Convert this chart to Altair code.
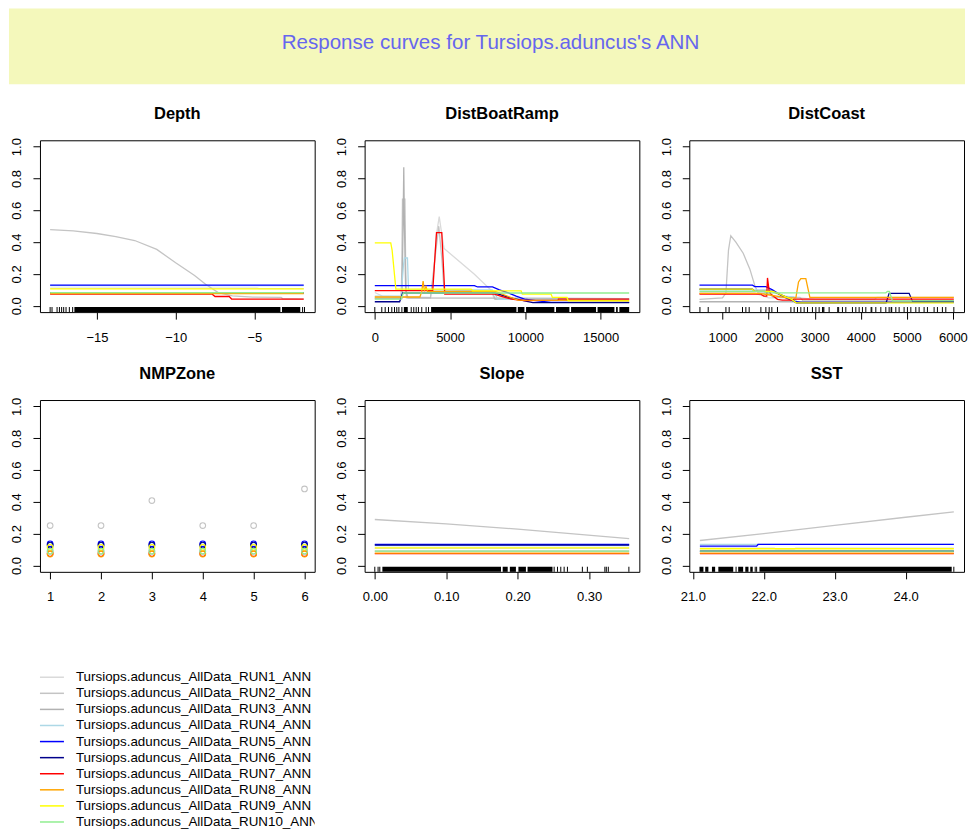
import altair as alt
import pandas as pd

FONT = "Liberation Sans"
TITLE = "Response curves for Tursiops.aduncus's ANN"
BAND = "#F4F8BB"
TITLE_COLOR = "#6666EE"

RUNS = [f"Tursiops.aduncus_AllData_RUN{i}_ANN" for i in range(1, 11)]
RUN_COLORS = ["#DADADA", "#C4C4C4", "#B2B2B2", "#ADD8E6", "#0000FF",
              "#00008B", "#FF0000", "#FFA500", "#FFFF00", "#90EE90"]

# ---- response curves: run number -> (x values, predicted probability) ----
DEPTH = {
    1: ([-17.97, -4.83, -4.7, -1.87], [0.111, 0.111, 0.107, 0.107]),
    2: ([-17.97, -16.5, -15, -13.8, -12.6, -11.2, -10, -8.8, -8.1, -7.3, -6.4, -5.1, -3.3, -3.2, -1.87],
        [0.479, 0.47, 0.454, 0.435, 0.41, 0.354, 0.27, 0.19, 0.135, 0.083, 0.0625, 0.054, 0.052, 0.044, 0.042]),
    3: ([-17.97, -1.87], [0.082, 0.082]),
    4: ([-17.97, -1.87], [0.126, 0.126]),
    5: ([-17.97, -1.87], [0.129, 0.129]),
    6: ([-17.97, -1.87], [0.080, 0.080]),
    7: ([-17.97, -7.68, -7.5, -6.6, -6.45, -1.87], [0.073, 0.073, 0.058, 0.058, 0.042, 0.042]),
    8: ([-17.97, -1.87], [0.077, 0.077]),
    9: ([-17.97, -1.87], [0.106, 0.106]),
    10: ([-17.97, -1.87], [0.083, 0.083]),
}

DIST_BOAT = {
    1: ([0, 500, 1700, 3700, 3900, 4100, 4280, 4450, 4600, 6600, 7700, 7950, 9000, 16900],
        [0.083, 0.06, 0.055, 0.052, 0.2, 0.45, 0.56, 0.45, 0.36, 0.2, 0.1, 0.042, 0.04, 0.035]),
    2: ([0, 1750, 1800, 1840, 2000, 2050, 2100, 3700, 4000, 4250, 4450, 4600, 7800, 8000, 16900],
        [0.05, 0.05, 0.25, 0.67, 0.67, 0.25, 0.05, 0.05, 0.3, 0.5, 0.3, 0.1, 0.09, 0.04, 0.04]),
    3: ([0, 1800, 1880, 1925, 1970, 2050, 2200, 16900],
        [0.045, 0.045, 0.5, 0.87, 0.5, 0.1, 0.05, 0.045]),
    4: ([0, 1750, 1900, 1970, 2170, 2240, 7800, 8200, 16900],
        [0.06, 0.06, 0.25, 0.30, 0.30, 0.1, 0.1, 0.04, 0.04]),
    5: ([0, 6620, 6830, 7820, 8280, 8830, 9390, 9950, 10820, 11710, 16900],
        [0.127, 0.127, 0.118, 0.118, 0.1, 0.083, 0.06, 0.042, 0.031, 0.021, 0.021]),
    6: ([0, 1650, 1850, 8000, 9000, 10500, 16900],
        [0.025, 0.025, 0.08, 0.08, 0.05, 0.02, 0.02]),
    7: ([0, 3850, 4100, 4450, 4650, 7950, 8300, 9060, 9950, 12180, 12200, 16900],
        [0.095, 0.095, 0.46, 0.46, 0.073, 0.073, 0.0625, 0.042, 0.033, 0.035, 0.042, 0.042]),
    8: ([0, 3000, 3120, 3210, 3300, 3400, 3500, 8000, 9500, 16900],
        [0.055, 0.055, 0.09, 0.155, 0.09, 0.12, 0.09, 0.09, 0.035, 0.032]),
    9: ([0, 1060, 1150, 1400, 6400, 6500, 9720, 9800, 11710, 11800, 12770, 12850, 16900],
        [0.395, 0.395, 0.35, 0.105, 0.105, 0.094, 0.094, 0.073, 0.073, 0.052, 0.052, 0.031, 0.031]),
    10: ([0, 1750, 1900, 16900], [0.042, 0.042, 0.08, 0.08]),
}

DIST_COAST = {
    1: ([500, 1700, 2000, 2700, 3000, 4300, 4350, 6020],
        [0.08, 0.08, 0.05, 0.05, 0.04, 0.04, 0.053, 0.053]),
    2: ([500, 1000, 1074, 1130, 1180, 1290, 1449, 1594, 1703, 1775, 2000, 2100, 2680, 2750, 6020],
        [0.04, 0.05, 0.08, 0.35, 0.44, 0.40, 0.33, 0.23, 0.125, 0.08, 0.08, 0.052, 0.052, 0.03, 0.03]),
    3: ([500, 6020], [0.025, 0.025]),
    4: ([500, 2000, 2300, 2550, 2620, 6020], [0.1, 0.1, 0.06, 0.055, 0.02, 0.02]),
    5: ([500, 1651, 1700, 1941, 2085, 2300, 2450, 2600, 2700, 6020],
        [0.129, 0.129, 0.12, 0.12, 0.1, 0.06, 0.04, 0.025, 0.021, 0.021]),
    6: ([500, 1651, 1700, 2100, 2500, 2600, 4550, 4616, 5050, 5124, 6020],
        [0.104, 0.104, 0.09, 0.09, 0.04, 0.018, 0.018, 0.078, 0.078, 0.027, 0.027]),
    7: ([500, 1833, 1900, 1960, 1976, 2013, 2060, 2193, 2300, 2500, 2550, 6020],
        [0.073, 0.073, 0.06, 0.06, 0.175, 0.09, 0.07, 0.04, 0.035, 0.035, 0.042, 0.042]),
    8: ([500, 1800, 2400, 2592, 2650, 2700, 2808, 2896, 6020],
        [0.078, 0.078, 0.05, 0.05, 0.15, 0.171, 0.171, 0.052, 0.052]),
    9: ([500, 1651, 1700, 2100, 2500, 2600, 6020], [0.104, 0.104, 0.09, 0.09, 0.04, 0.018, 0.018]),
    10: ([500, 1900, 1940, 4544, 4580, 4620, 4688, 6020],
         [0.09, 0.09, 0.081, 0.081, 0.09, 0.09, 0.03, 0.03]),
}

ZONES = [1, 2, 3, 4, 5, 6]
NMP_ZONE = {
    1: (ZONES, [0.107] * 6),
    2: (ZONES, [0.251, 0.251, 0.408, 0.251, 0.251, 0.481]),
    3: (ZONES, [0.09] * 6),
    4: (ZONES, [0.125] * 6),
    5: (ZONES, [0.136] * 6),
    6: (ZONES, [0.128] * 6),
    7: (ZONES, [0.075] * 6),
    8: (ZONES, [0.072] * 6),
    9: (ZONES, [0.114] * 6),
    10: (ZONES, [0.09] * 6),
}

SLOPE = {
    1: ([0.0, 0.356], [0.107, 0.107]),
    2: ([0.0, 0.1, 0.2, 0.356], [0.289, 0.262, 0.228, 0.169]),
    3: ([0.0, 0.356], [0.09, 0.09]),
    4: ([0.0, 0.356], [0.125, 0.125]),
    5: ([0.0, 0.356], [0.132, 0.132]),
    6: ([0.0, 0.356], [0.128, 0.128]),
    7: ([0.0, 0.356], [0.075, 0.075]),
    8: ([0.0, 0.356], [0.077, 0.077]),
    9: ([0.0, 0.356], [0.111, 0.111]),
    10: ([0.0, 0.356], [0.09, 0.09]),
}

SST = {
    1: ([21.1, 22.15, 22.17, 22.43, 22.45, 24.68], [0.109, 0.109, 0.103, 0.103, 0.109, 0.109]),
    2: ([21.1, 22.0, 23.0, 24.0, 24.68], [0.157, 0.2, 0.252, 0.303, 0.337]),
    3: ([21.1, 24.68], [0.09, 0.09]),
    4: ([21.1, 24.68], [0.132, 0.132]),
    5: ([21.1, 21.9, 21.92, 24.68], [0.121, 0.121, 0.132, 0.132]),
    6: ([21.1, 24.68], [0.09, 0.09]),
    7: ([21.1, 24.68], [0.075, 0.075]),
    8: ([21.1, 24.68], [0.077, 0.077]),
    9: ([21.1, 24.68], [0.105, 0.105]),
    10: ([21.1, 24.68], [0.09, 0.09]),
}

# ---- rug of observed predictor values: single ticks and dense runs ----
DEPTH_RUG = [-17.97, -17.85, -17.53, -17.38, -17.24, -17.11, -16.96, -16.75, -16.54, -1.94, -1.82]
DEPTH_SPANS = [(-16.43, -3.35), (-3.25, -2.09)]

DIST_BOAT_RUG = [0, 465, 690, 910, 1130, 1310, 1460, 1600, 1800, 2420, 2590, 2750, 2900, 3120, 3410, 3570]
DIST_BOAT_SPANS = [(1930, 2190), (3740, 9410), (9500, 9940), (10050, 11930), (12040, 12930),
                   (13040, 14700), (14800, 15920), (16030, 16140), (16250, 16900)]

DIST_COAST_RUG = [510, 690, 1074, 1145, 1434, 1507, 1579, 1833, 1941, 2013, 2071, 2193, 2484, 2555,
                  2627, 2700, 2772, 2844, 2952, 3026, 3097, 3170, 3184, 3200, 3314, 3500, 3520, 3603,
                  3676, 3820, 3893, 3965, 4037, 4110, 4225, 4240, 4327, 4436, 4544, 4616, 4660, 4672,
                  4761, 4833, 4941, 5013, 5087, 5195, 5267, 5375, 5447, 5592, 5664, 5772, 5846, 6020]
DIST_COAST_SPANS = []

SLOPE_RUG = [0.0, 0.0046, 0.007, 0.251, 0.2557, 0.2603, 0.265, 0.2696, 0.2905, 0.2975,
             0.322, 0.324, 0.3268, 0.3556]
SLOPE_SPANS = [(0.0106, 0.1766), (0.179, 0.186), (0.189, 0.1975), (0.201, 0.2115), (0.2138, 0.2487)]

SST_RUG = [21.61, 21.88, 21.9, 24.68]
SST_SPANS = [(21.094, 21.15), (21.175, 21.22), (21.27, 21.315), (21.36, 21.57), (21.64, 21.71),
             (21.74, 21.785), (21.81, 21.845), (21.94, 24.65)]

Y_TICKS = [0.0, 0.2, 0.4, 0.6, 0.8, 1.0]

PANEL_W, PANEL_H = 275, 172

color_scale = alt.Scale(domain=RUNS, range=RUN_COLORS)


def panel(name, curves, x_ticks, x_format, rug=(), spans=(), points=False):
    xs_all = [v for xv, _ in curves.values() for v in xv] + list(rug) + [v for s in spans for v in s]
    lo, hi = min(xs_all), max(xs_all)
    pad = 0.04 * (hi - lo)
    x_scale = alt.Scale(domain=[lo - pad, hi + pad], nice=False, zero=False)
    y_scale = alt.Scale(domain=[-0.04, 1.04], nice=False, zero=False)
    x_axis = alt.Axis(values=x_ticks, format=x_format, labelPadding=12)
    y_axis = alt.Axis(values=Y_TICKS, format=".1f", labelAngle=270, labelAlign="center",
                      labelBaseline="alphabetic", labelPadding=12)
    X = alt.X("x:Q", scale=x_scale, axis=x_axis, title=None)
    layers = []

    if rug:
        layers.append(
            alt.Chart(pd.DataFrame({"x": list(rug)})).mark_rule(color="black", strokeWidth=1).encode(
                x=X,
                y=alt.YDatum(-0.04, scale=y_scale, axis=y_axis, title=None),
                y2=alt.Y2Datum(-0.008),
            )
        )
    if spans:
        layers.append(
            alt.Chart(pd.DataFrame({"x": [s[0] for s in spans], "x2": [s[1] for s in spans]}))
            .mark_rect(color="black")
            .encode(
                x=X,
                x2="x2:Q",
                y=alt.YDatum(-0.04, scale=y_scale, axis=y_axis, title=None),
                y2=alt.Y2Datum(-0.008),
            )
        )

    for k in range(1, 11):
        xv, yv = curves[k]
        df = pd.DataFrame({"x": xv, "y": yv, "run": RUNS[k - 1], "i": range(len(xv))})
        base = alt.Chart(df)
        if points:
            mark = base.mark_point(shape="circle", filled=False, size=32, strokeWidth=1.1, opacity=1)
        else:
            mark = base.mark_line(strokeWidth=1.3, clip=True)
        enc = dict(
            x=X,
            y=alt.Y("y:Q", scale=y_scale, axis=y_axis, title=None),
            color=alt.Color("run:N", scale=color_scale, legend=None),
        )
        if not points:
            enc["order"] = alt.Order("i:Q")
        layers.append(mark.encode(**enc))

    return alt.layer(*layers).properties(
        width=PANEL_W,
        height=PANEL_H,
        title=alt.TitleParams(name, fontSize=16.5, fontWeight="bold", font=FONT, color="black",
                              anchor="middle", baseline="bottom", offset=-1),
    )


p_depth = panel("Depth", DEPTH, [-15, -10, -5], "d", DEPTH_RUG, DEPTH_SPANS)
p_boat = panel("DistBoatRamp", DIST_BOAT, [0, 5000, 10000, 15000], "d", DIST_BOAT_RUG, DIST_BOAT_SPANS)
p_coast = panel("DistCoast", DIST_COAST, [1000, 2000, 3000, 4000, 5000, 6000], "d",
                DIST_COAST_RUG, DIST_COAST_SPANS)
p_zone = panel("NMPZone", NMP_ZONE, ZONES, "d", points=True)
p_slope = panel("Slope", SLOPE, [0.0, 0.1, 0.2, 0.3], ".2f", SLOPE_RUG, SLOPE_SPANS)
p_sst = panel("SST", SST, [21.0, 22.0, 23.0, 24.0], ".1f", SST_RUG, SST_SPANS)

# ---- heading band (reaches left over the y-axis gutter of the first column) ----
title_df = pd.DataFrame({"t": [TITLE]})
band = alt.Chart(title_df).mark_rect(color=BAND).encode(
    x=alt.value(-31), x2=alt.value(926), y=alt.value(0), y2=alt.value(76)
)
heading = alt.Chart(title_df).mark_text(
    font=FONT, fontSize=20.6, color=TITLE_COLOR, align="center", baseline="middle"
).encode(x=alt.value(451), y=alt.value(35), text="t:N")
title_chart = alt.layer(band, heading).properties(
    width=895, height=76, view=alt.ViewBackground(stroke="transparent")
)

# ---- legend of model runs ----
legend_df = pd.DataFrame({"run": RUNS, "i": list(range(len(RUNS)))})
legend_y = alt.Y("i:Q", scale=alt.Scale(domain=[-3.199, 9.534], reverse=True, nice=False, zero=False),
                 axis=None)
legend_lines = alt.Chart(legend_df).mark_rule(strokeWidth=1.5).encode(
    x=alt.value(0), x2=alt.value(24), y=legend_y,
    color=alt.Color("run:N", scale=color_scale, legend=None),
)
legend_text = alt.Chart(legend_df).mark_text(
    font=FONT, fontSize=13.4, align="left", baseline="middle", color="black", clip=True
).encode(x=alt.value(36), y=legend_y, text="run:N")
legend_chart = alt.layer(legend_lines, legend_text).properties(
    width=PANEL_W, height=205, view=alt.ViewBackground(stroke="transparent")
)

row1 = alt.hconcat(p_depth, p_boat, p_coast, spacing=19)
row2 = alt.hconcat(p_zone, p_slope, p_sst, spacing=19)

chart = (
    alt.vconcat(title_chart, row1, row2, legend_chart, spacing=20)
    .properties(padding={"left": 8, "top": 7, "right": 0, "bottom": 0})
    .configure_view(stroke="black", strokeWidth=1)
    .configure_axis(
        domain=False, grid=False, ticks=True, tickSize=7, tickColor="black", tickWidth=1,
        labelFont=FONT, labelFontSize=13, labelColor="black",
        labelFlush=False, labelOverlap=False,
    )
)

chart.save("out.html", embed_options={"renderer": "svg", "actions": False})
